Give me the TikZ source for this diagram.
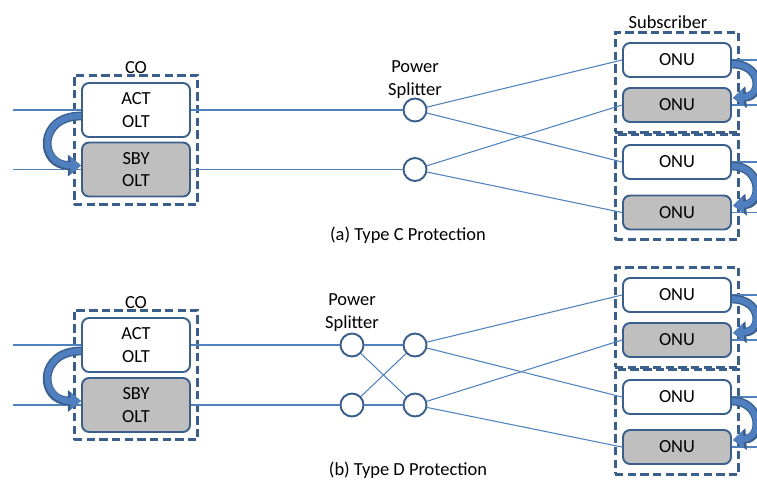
\documentclass[tikz,border=0pt]{standalone}
\usepackage{fontspec}
\setmainfont{Carlito}
\usepackage{tikz}
\usetikzlibrary{positioning, fit, calc, arrows.meta}
\definecolor{boxblue}{HTML}{3A5F8C}
\definecolor{linkblue}{HTML}{4F81BD}
\definecolor{sbygray}{HTML}{BFBFBF}
\definecolor{swblue}{HTML}{4F7FBE}
\tikzset{
	olt/.style={draw=boxblue, line width=1.1pt, rounded corners=4pt, minimum width=2.16cm, minimum height=1.08cm, align=center, inner sep=0pt}
}
\tikzset{
	onu/.style={olt, minimum height=0.68cm},
	standby/.style={fill=sbygray}
}
\tikzset{
	splitter/.style={circle, draw=boxblue, fill=white, line width=1.1pt, minimum size=0.46cm, inner sep=0pt},
	grpbox/.style={draw=boxblue, line width=1.7pt, dash pattern=on 4.8pt off 2.4pt, inner sep=0.14cm},
	subbox/.style={grpbox, inner ysep=0.19cm},
	fiber/.style={draw=linkblue, line width=0.6pt},
	swarrow/.style={preaction={draw=boxblue, line width=5pt, -{Triangle[length=7.5pt, width=12pt]}},
		draw=swblue, line width=3.4pt, -{Triangle[length=6pt, width=9.5pt]}},
	label/.style={inner sep=1pt, align=center}
}

\begin{document}
\begin{tikzpicture}[x=0.02cm, y=-0.02cm, font=\fontsize{10.5pt}{13pt}\selectfont]
      \useasboundingbox (0,0) rectangle (757,481);
      % (a) type C: CO side
      \node[olt] (acta) at (136,110) {ACT\\OLT};
      \node[olt, standby] (sbya) at (136,169.5) {SBY\\OLT};
      \node[grpbox, fit=(acta)(sbya)] (coa) {};
      \node[label, above=-1pt of coa] (coalbl) {CO};
      \coordinate (ina1) at (13,110);
      \coordinate (ina2) at (13,169.5);
      \draw[fiber] (ina1) -- (acta.west);
      \draw[fiber] (ina2) -- (sbya.west);
      \draw[swarrow] ($(acta.west)+(0,6)$) .. controls +(-44,0) and +(-42,0) .. ($(sbya.west)+(0,-4)$);
      % splitters
      \node[splitter] (spa1) at (415,110) {};
      \node[splitter] (spa2) at (415,169.5) {};
      \node[label, above=-1.5pt of spa1] (spalbl) {Power\\Splitter};
      \draw[fiber] (acta) -- (spa1);
      \draw[fiber] (sbya) -- (spa2);
      % subscriber side
      \node[onu] (onua1) at (677,60) {ONU};
      \node[onu, standby] (onua2) at (677,105) {ONU};
      \node[onu] (onua3) at (677,162) {ONU};
      \node[onu, standby] (onua4) at (677,212.5) {ONU};
      \node[subbox, fit=(onua1)(onua2)] (suba1) {};
      \node[subbox, fit=(onua3)(onua4)] (suba2) {};
      \node[label, above=0pt of suba1, xshift=-0.18cm] (subalbl) {Subscriber};
      \draw[fiber] (spa1) -- (onua1.west);
      \draw[fiber] (spa1) -- (onua3.west);
      \draw[fiber] (spa2) -- (onua2.west);
      \draw[fiber] (spa2) -- (onua4.west);
      \foreach \n in {1,2,3,4} {
        \coordinate (outa\n) at ($(onua\n.east)+(30,0)$);
        \draw[fiber] (onua\n.east) -- (outa\n);
      }
      \draw[swarrow] ($(onua1.east)+(0,4)$) .. controls +(30,0) and +(30,-2) .. ($(onua2.east)+(1,-7)$);
      \draw[swarrow] ($(onua3.east)+(0,4)$) .. controls +(30,0) and +(30,-2) .. ($(onua4.east)+(1,-7)$);
      \node (capa) at (408,235) {(a) Type C Protection};

      % (b) type D: CO side
      \node[olt] (actb) at (136,345) {ACT\\OLT};
      \node[olt, standby] (sbyb) at (136,405) {SBY\\OLT};
      \node[grpbox, fit=(actb)(sbyb)] (cob) {};
      \node[label, above=-1pt of cob] (coblbl) {CO};
      \coordinate (inb1) at (13,345);
      \coordinate (inb2) at (13,405);
      \draw[fiber] (inb1) -- (actb.west);
      \draw[fiber] (inb2) -- (sbyb.west);
      \draw[swarrow] ($(actb.west)+(0,6)$) .. controls +(-44,0) and +(-42,0) .. ($(sbyb.west)+(0,-4)$);
      % splitters, crossed
      \node[splitter] (spb1) at (352,345) {};
      \node[splitter] (spb2) at (415,345) {};
      \node[splitter] (spb3) at (352,405) {};
      \node[splitter] (spb4) at (415,405) {};
      \node[label, above=-0.5pt of spb1] (spblbl) {Power\\Splitter};
      \draw[fiber] (actb) -- (spb1);
      \draw[fiber] (sbyb) -- (spb3);
      \draw[fiber] (spb1) -- (spb2);
      \draw[fiber] (spb3) -- (spb4);
      \draw[fiber] (spb1) -- (spb4);
      \draw[fiber] (spb3) -- (spb2);
      % subscriber side
      \node[onu] (onub1) at (677,295) {ONU};
      \node[onu, standby] (onub2) at (677,340) {ONU};
      \node[onu] (onub3) at (677,397) {ONU};
      \node[onu, standby] (onub4) at (677,447) {ONU};
      \node[subbox, fit=(onub1)(onub2)] (subb1) {};
      \node[subbox, fit=(onub3)(onub4)] (subb2) {};
      \draw[fiber] (spb2) -- (onub1.west);
      \draw[fiber] (spb2) -- (onub3.west);
      \draw[fiber] (spb4) -- (onub2.west);
      \draw[fiber] (spb4) -- (onub4.west);
      \foreach \n in {1,2,3,4} {
        \coordinate (outb\n) at ($(onub\n.east)+(30,0)$);
        \draw[fiber] (onub\n.east) -- (outb\n);
      }
      \draw[swarrow] ($(onub1.east)+(0,4)$) .. controls +(30,0) and +(30,-2) .. ($(onub2.east)+(1,-7)$);
      \draw[swarrow] ($(onub3.east)+(0,4)$) .. controls +(30,0) and +(30,-2) .. ($(onub4.east)+(1,-7)$);
      \node (capb) at (408,470) {(b) Type D Protection};
\end{tikzpicture}
\end{document}
